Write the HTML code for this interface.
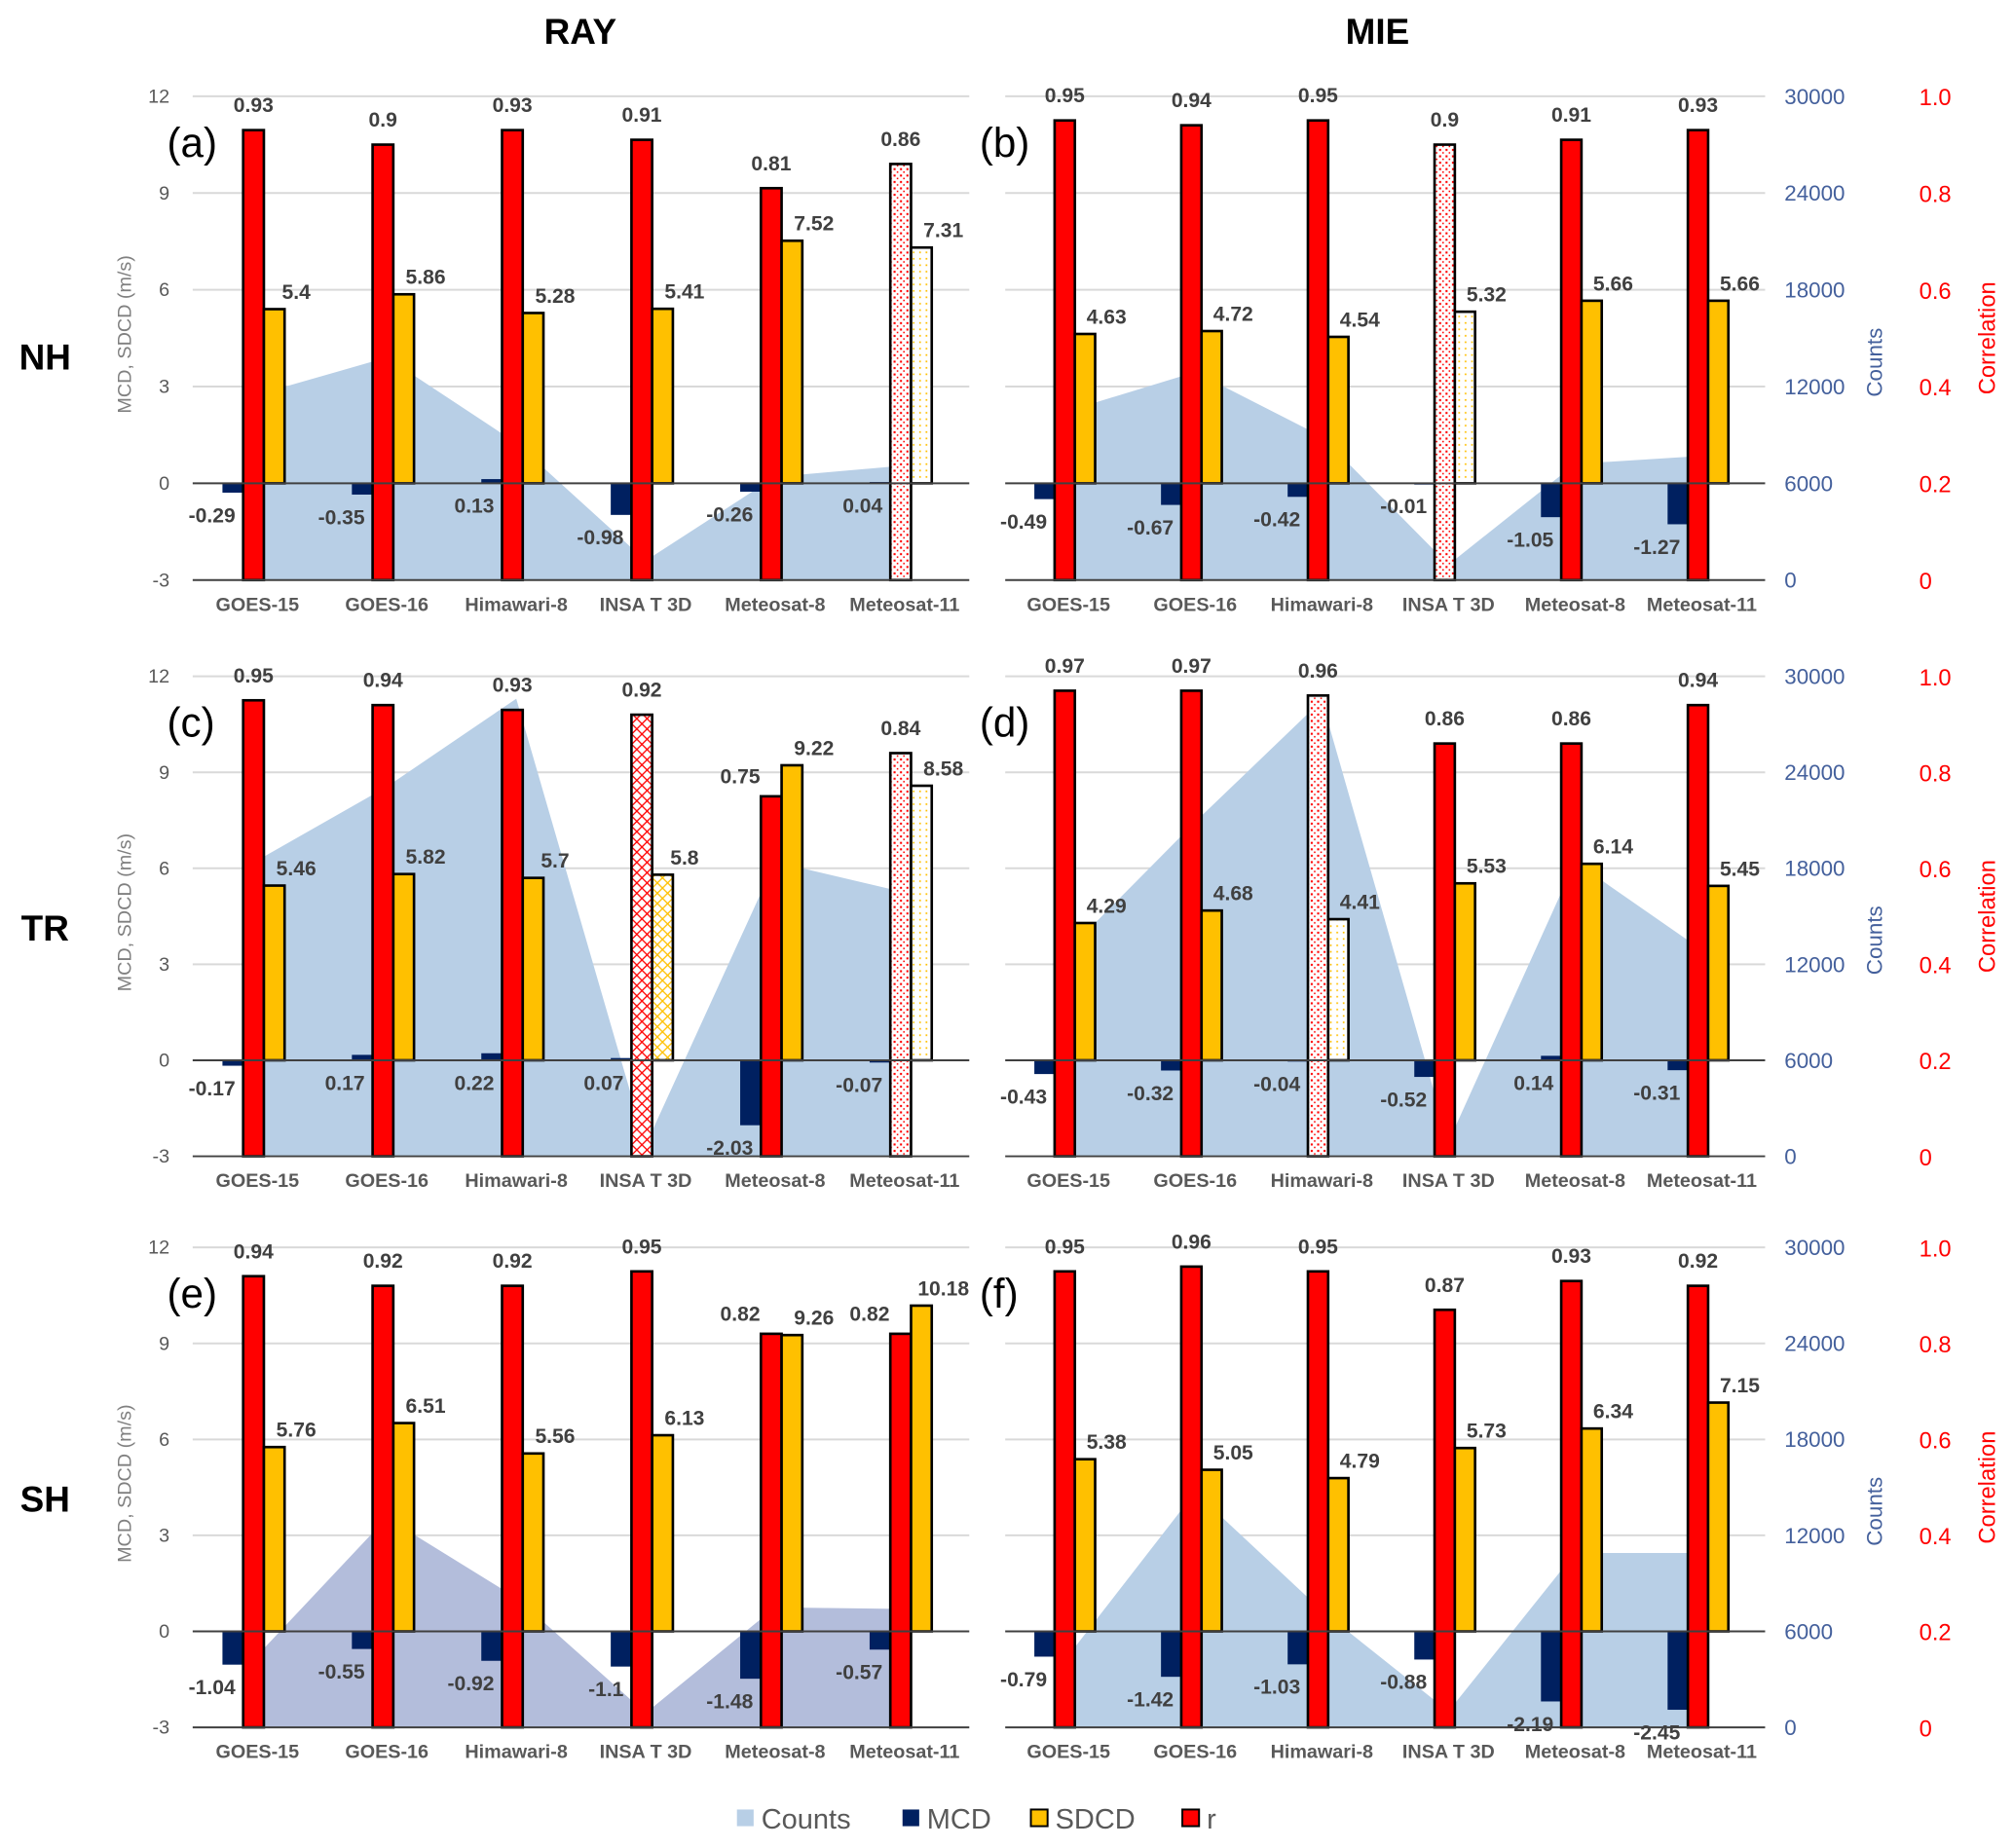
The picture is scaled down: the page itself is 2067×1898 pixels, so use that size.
<!DOCTYPE html>
<html><head><meta charset="utf-8"><style>
html,body{margin:0;padding:0;background:#fff;}
svg{display:block;font-family:"Liberation Sans",Arial,sans-serif;}
</style></head><body>
<svg id="fig" width="2067" height="1898" viewBox="0 0 1568 1440" xmlns="http://www.w3.org/2000/svg">
<defs>
<pattern id="dotR" width="5" height="5" patternUnits="userSpaceOnUse"><rect width="5" height="5" fill="#fff"/><rect x="1" y="1" width="1.6" height="1.6" fill="#ff0000"/><rect x="3.5" y="3.5" width="1.2" height="1.2" fill="#ff0000"/></pattern>
<pattern id="dotY" width="5" height="5" patternUnits="userSpaceOnUse"><rect width="5" height="5" fill="#fff"/><rect x="1" y="1" width="1.3" height="1.3" fill="#ffc000"/></pattern>
<pattern id="xR" width="8" height="8" patternUnits="userSpaceOnUse"><rect width="8" height="8" fill="#fff"/><path d="M0 0L8 8M8 0L0 8" stroke="#ff0000" stroke-width="1"/></pattern>
<pattern id="xY" width="8" height="8" patternUnits="userSpaceOnUse"><rect width="8" height="8" fill="#fff"/><path d="M0 0L8 8M8 0L0 8" stroke="#ffc000" stroke-width="1"/></pattern>
</defs>
</svg>
<script>
const categories=["GOES-15","GOES-16","Himawari-8","INSA T 3D","Meteosat-8","Meteosat-11"];
const rA=[0.93,0.9,0.93,0.91,0.81,0.86], sdA=[5.4,5.86,5.28,5.41,7.52,7.31], mcdA=[-0.29,-0.35,0.13,-0.98,-0.26,0.04], cntA=[11500,13800,8500,1200,6400,7100];
const rB=[0.95,0.94,0.95,0.9,0.91,0.93], sdB=[4.63,4.72,4.54,5.32,5.66,5.66], mcdB=[-0.49,-0.67,-0.42,-0.01,-1.05,-1.27], cntB=[10500,12900,8900,950,7200,7700];
const rC=[0.95,0.94,0.93,0.92,0.75,0.84], sdC=[5.46,5.82,5.7,5.8,9.22,8.58], mcdC=[-0.17,0.17,0.22,0.07,-2.03,-0.07], cntC=[18500,23100,28600,700,18400,16500];
const rD=[0.97,0.97,0.96,0.86,0.86,0.94], sdD=[4.29,4.68,4.41,5.53,6.14,5.45], mcdD=[-0.43,-0.32,-0.04,-0.52,0.14,-0.31], cntD=[12900,20900,28500,900,18400,12900];
const rE=[0.94,0.92,0.92,0.95,0.82,0.82], sdE=[5.76,6.51,5.56,6.13,9.26,10.18], mcdE=[-1.04,-0.55,-0.92,-1.1,-1.48,-0.57], cntE=[4500,13100,8100,900,7500,7400];
const rF=[0.95,0.96,0.95,0.87,0.93,0.92], sdF=[5.38,5.05,4.79,5.73,6.34,7.15], mcdF=[-0.79,-1.42,-1.03,-0.88,-2.19,-2.45], cntF=[4500,14700,7300,1000,10900,10900];
const leftTicks=[12,9,6,3,0,-3];
const countTicks=[30000,24000,18000,12000,6000,0];
const corrTicks=["1.0","0.8","0.6","0.4","0.2","0"];

const NS="http://www.w3.org/2000/svg";
const svg=document.getElementById('fig');
function mk(tag,attrs,parent,text){const e=document.createElementNS(NS,tag);for(const k in attrs)e.setAttribute(k,attrs[k]);if(text!==undefined)e.textContent=text;(parent||svg).appendChild(e);return e;}

const panels=[
 {id:'a',x0:150,x1:755,yT:75,yB:452,r:rA,sd:sdA,mcd:mcdA,cnt:cntA,right:false,area:'#b8cfe6',pat:{5:['dotR','dotY']}},
 {id:'b',x0:783,x1:1375,yT:75,yB:452,r:rB,sd:sdB,mcd:mcdB,cnt:cntB,right:true,area:'#b8cfe6',pat:{3:['dotR','dotY']}},
 {id:'c',x0:150,x1:755,yT:527,yB:901,r:rC,sd:sdC,mcd:mcdC,cnt:cntC,right:false,area:'#b8cfe6',pat:{3:['xR','xY'],5:['dotR','dotY']}},
 {id:'d',x0:783,x1:1375,yT:527,yB:901,r:rD,sd:sdD,mcd:mcdD,cnt:cntD,right:true,area:'#b8cfe6',pat:{2:['dotR','dotY']}},
 {id:'e',x0:150,x1:755,yT:972,yB:1346,r:rE,sd:sdE,mcd:mcdE,cnt:cntE,right:false,area:'#b3bddb',pat:{}},
 {id:'f',x0:783,x1:1375,yT:972,yB:1346,r:rF,sd:sdF,mcd:mcdF,cnt:cntF,right:true,area:'#b8cfe6',pat:{}}
];

panels.forEach(p=>{
 const g=mk('g',{},svg);
 
 
 const H=p.yB-p.yT, w=(p.x1-p.x0)/6;
 const yL=v=>p.yB-(v+3)/15*H;
 const yC=v=>p.yB-v/30000*H;
 const yR=v=>p.yB-v*H;
 const cx=i=>p.x0+w*(i+0.5);
 leftTicks.forEach(t=>{
  if(t>0){const l=mk('line',{x1:p.x0,x2:p.x1,y1:yL(t),y2:yL(t),stroke:'#d9d9d9','stroke-width':1.5},g);
   }
 });
 let pts=`${cx(0)},${p.yB} `+p.cnt.map((v,i)=>`${cx(i)},${yC(v)}`).join(' ')+` ${cx(5)},${p.yB}`;
 const ar=mk('polygon',{points:pts,fill:p.area},g);
 
 const bw=0.16*w;
 categories.forEach((c,i)=>{
  const x=cx(i), pat=p.pat[i];
  const m=p.mcd[i], y0=yL(0), ym=yL(m);
  const mb=mk('rect',{x:x-0.27*w,y:Math.min(y0,ym),width:bw,height:Math.max(1,Math.abs(ym-y0)),fill:'#002060'},g);
  
  const ry=yR(p.r[i]);
  const rb=mk('rect',{x:x-0.11*w,y:ry,width:bw,height:p.yB-ry,fill:pat?`url(#${pat[0]})`:'#ff0000',stroke:'#000','stroke-width':2},g);
  
  const sy=yL(p.sd[i]);
  const sb=mk('rect',{x:x+0.05*w,y:sy,width:bw,height:y0-sy,fill:pat?`url(#${pat[1]})`:'#ffc000',stroke:'#000','stroke-width':2},g);
  
  const clash=sy<ry+5;
  const rl=mk('text',{x:clash?x-0.27*w:x-0.03*w,y:clash?ry-10:ry-14,'text-anchor':'middle','font-size':16,'font-weight':'bold',fill:'#404040'},g,String(p.r[i]));
  
  const sl=mk('text',{x:x+0.3*w,y:sy-8,'text-anchor':'middle','font-size':16,'font-weight':'bold',fill:'#404040'},g,String(p.sd[i]));
  
  const ml=mk('text',{x:x-0.17*w,y:y0+Math.max(0,-m)*H/15+23,'text-anchor':'end','font-size':16,'font-weight':'bold',fill:'#404040'},g,String(m));
  
  const cl=mk('text',{x:x,y:p.yB+24,'text-anchor':'middle','font-size':15,'font-weight':'bold',fill:'#595959'},g,c);
  
 });
 const zl=mk('line',{x1:p.x0,x2:p.x1,y1:yL(0),y2:yL(0),stroke:'#404040','stroke-width':1.5},g);
 
 const bl=mk('line',{x1:p.x0,x2:p.x1,y1:p.yB,y2:p.yB,stroke:'#404040','stroke-width':1.5},g);
 
 if(!p.right){
  leftTicks.forEach(t=>{
   const tl=mk('text',{x:p.x0-18,y:yL(t)+5,'text-anchor':'end','font-size':15,fill:'#595959'},g,String(t));
   
  });
  const yt=mk('text',{x:0,y:0,transform:`translate(102,${(p.yT+p.yB)/2-3}) rotate(-90)`,'text-anchor':'middle','font-size':15,fill:'#808080'},g,'MCD, SDCD (m/s)');
  
 } else {
  countTicks.forEach(t=>{
   const tl=mk('text',{x:p.x1+15,y:yC(t)+6,'font-size':17,fill:'#44609c'},g,String(t));
   
  });
  corrTicks.forEach(t=>{
   const tl=mk('text',{x:1495,y:yR(+t)+7,'font-size':18,fill:'#ff0000'},g,t);
   
  });
  const ct=mk('text',{x:0,y:0,transform:`translate(1466,${yC(13500)}) rotate(-90)`,'text-anchor':'middle','font-size':17,fill:'#44609c'},g,'Counts');
  
  const rt=mk('text',{x:0,y:0,transform:`translate(1554,${yR(0.5)}) rotate(-90)`,'text-anchor':'middle','font-size':18,fill:'#ff0000'},g,'Correlation');
  
 }
 const pl=mk('text',{x:p.x0-20,y:p.yT+47,'font-size':32,fill:'#000'},g,'('+p.id+')');
 
});

[['RAY',452],['MIE',1073]].forEach(([t,x])=>{
 const e=mk('text',{x:x,y:34,'text-anchor':'middle','font-size':28,'font-weight':'bold'},svg,t);
 
});
[['NH',288],['TR',733],['SH',1178]].forEach(([t,y])=>{
 const e=mk('text',{x:35,y:y,'text-anchor':'middle','font-size':28,'font-weight':'bold'},svg,t);
 
});
const lg=mk('g',{},svg);

[['Counts','#b8cfe6',574,false],['MCD','#002060',703,false],['SDCD','#ffc000',803,true],['r','#ff0000',921,true]].forEach(([t,c,x,s])=>{
 const r=mk('rect',{x:x,y:1410,width:13,height:13,fill:c,stroke:s?'#000':'none','stroke-width':1.5},lg);
 
 const e=mk('text',{x:x+19,y:1425,'font-size':22,fill:'#595959'},lg,t);
 
});
</script>
</body></html>
